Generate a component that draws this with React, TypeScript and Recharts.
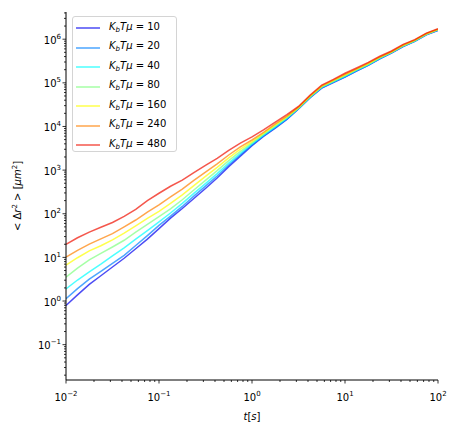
import { LineChart, Line, XAxis, YAxis } from 'recharts';

const times = [0.01, 0.0133, 0.0178, 0.0237, 0.0316, 0.0422, 0.0562, 0.075, 0.1, 0.133, 0.178, 0.237, 0.316, 0.422, 0.562, 0.75, 1, 1.33, 1.78, 2.37, 3.16, 4.22, 5.62, 7.5, 10, 13.3, 17.8, 23.7, 31.6, 42.2, 56.2, 75, 100];

const k10 = [0.794, 1.38, 2.4, 3.8, 6.03, 9.55, 15.8, 26.3, 45.7, 79.4, 132, 224, 380, 661, 1200, 2090, 3630, 5890, 9120, 14500, 25100, 45700, 75900, 102000, 135000, 186000, 251000, 355000, 479000, 676000, 891000, 1260000, 1580000];
const k20 = [1.13, 1.92, 3.16, 4.79, 7.28, 11.1, 18.7, 31.6, 54.1, 87.9, 147, 253, 430, 733, 1310, 2240, 3800, 6100, 9420, 14800, 25500, 46300, 77100, 104000, 138000, 189000, 255000, 360000, 484000, 684000, 899000, 1270000, 1600000];
const k40 = [1.9, 3.03, 4.66, 7.01, 10.8, 16.6, 26.1, 41.1, 65.2, 104, 173, 294, 491, 830, 1450, 2430, 3980, 6310, 9800, 15300, 25900, 47100, 78500, 106000, 141000, 193000, 260000, 366000, 491000, 693000, 910000, 1290000, 1620000];
const k80 = [3.5, 5.7, 8.79, 12.3, 17.3, 24.7, 37.8, 56.8, 86.1, 129, 209, 351, 583, 970, 1650, 2690, 4220, 6610, 10300, 15900, 26400, 48100, 80500, 109000, 146000, 198000, 267000, 373000, 500000, 706000, 923000, 1300000, 1640000];
const k160 = [6.67, 9.82, 14.1, 18.5, 25.2, 36.0, 52.7, 78.5, 114, 172, 270, 442, 718, 1160, 1910, 3020, 4520, 6920, 10900, 16600, 27000, 49200, 82800, 112000, 151000, 203000, 274000, 382000, 509000, 719000, 938000, 1320000, 1670000];
const k240 = [10.1, 14.5, 20.1, 26.5, 35.1, 50.1, 71.9, 109, 160, 245, 365, 580, 904, 1390, 2220, 3390, 4900, 7330, 11500, 17300, 27700, 50500, 85100, 115000, 157000, 209000, 282000, 392000, 520000, 735000, 953000, 1350000, 1690000];
const k480 = [20.0, 28.2, 38.0, 49.0, 63.1, 87.1, 126, 200, 295, 427, 589, 871, 1290, 1860, 2820, 4170, 5750, 8320, 12600, 18600, 28800, 52500, 89100, 120000, 166000, 219000, 295000, 407000, 537000, 759000, 977000, 1380000, 1740000];

const labels = ['10', '20', '40', '80', '160', '240', '480'];
const colors = ['#0000f0', '#0080ff', '#00ffff', '#80ff80', '#ffff00', '#ff8000', '#f01000'];
const seriesValues = [k10, k20, k40, k80, k160, k240, k480];

const xMajor = [0.01, 0.1, 1, 10, 100];
const yMajor = [0.1, 1, 10, 100, 1000, 10000, 100000, 1000000];
const minorMult = [2, 3, 4, 5, 6, 7, 8, 9];

const xDomain = [0.01, 100];
const yDomain = [0.0155, 4.2e6];

const withMinors = (majors: number[], lo: number, hi: number) => {
    const out: number[] = [];
    const first = Math.floor(Math.log10(lo));
    const last = Math.ceil(Math.log10(hi));
    for (let e = first; e <= last; e++) {
        const base = Math.pow(10, e);
        if (base >= lo && base <= hi) out.push(base);
        minorMult.forEach(m => {
            const v = m * base;
            if (v >= lo && v <= hi) out.push(v);
        });
    }
    majors.forEach(v => { if (!out.includes(v)) out.push(v); });
    return out.sort((a, b) => a - b);
};

const xTicks = withMinors(xMajor, xDomain[0], xDomain[1]);
const yTicks = withMinors(yMajor, yDomain[0], yDomain[1]);

const rows = times.map((t, i) => {
    const row: Record<string, number> = { t };
    labels.forEach((l, j) => { row['k' + l] = seriesValues[j][i]; });
    return row;
});

const isMajor = (v: number) => Math.abs(Math.log10(v) - Math.round(Math.log10(v))) < 1e-6;
const expOf = (v: number) => {
    const e = Math.round(Math.log10(v));
    return e < 0 ? '\u2212' + Math.abs(e) : String(e);
};

const FONT = 'DejaVu Sans, Verdana, sans-serif';

function XTick(props: any) {
    const { x, y, payload } = props;
    const v = payload.value;
    const major = isMajor(v);
    return (
        <g>
            <line x1={x} x2={x} y1={y} y2={y + (major ? 3.5 : 2)} stroke="#000" strokeWidth={0.8} />
            {major && (
                <text x={x} y={y + 20.5} textAnchor="middle" fontSize={10} fontFamily={FONT} fill="#000">
                    <tspan>10</tspan>
                    <tspan dy={-5} fontSize={7}>{expOf(v)}</tspan>
                </text>
            )}
        </g>
    );
}

function YTick(props: any) {
    const { x, y, payload } = props;
    const v = payload.value;
    const major = isMajor(v);
    return (
        <g>
            <line x1={x} x2={x - (major ? 3.5 : 2)} y1={y} y2={y} stroke="#000" strokeWidth={0.8} />
            {major && (
                <text x={x - 5} y={y + 4.5} textAnchor="end" fontSize={10} fontFamily={FONT} fill="#000">
                    <tspan>10</tspan>
                    <tspan dy={-5} fontSize={7}>{expOf(v)}</tspan>
                </text>
            )}
        </g>
    );
}

export default function App() {
    return (
        <div style={{ position: 'absolute', left: 0, top: 0, width: 456, height: 431, background: '#fff', fontFamily: FONT }}>
            <LineChart width={456} height={431} data={rows} margin={{ top: 12, right: 18, bottom: 0, left: 0 }}>
                <XAxis dataKey="t" type="number" scale="log" domain={xDomain} allowDataOverflow ticks={xTicks} interval={0}
                    height={51} tickSize={0} tickMargin={0} tickLine={false} tick={(p: any) => <XTick {...p} />}
                    axisLine={{ stroke: '#000', strokeWidth: 1 }} />
                <XAxis xAxisId="top" orientation="top" dataKey="t" type="number" scale="log" domain={xDomain} allowDataOverflow
                    height={0} tick={false} tickLine={false} axisLine={{ stroke: '#000', strokeWidth: 1 }} />
                <YAxis type="number" scale="log" domain={yDomain} allowDataOverflow ticks={yTicks} interval={0}
                    width={66} tickSize={0} tickMargin={0} tickLine={false} tick={(p: any) => <YTick {...p} />}
                    axisLine={{ stroke: '#000', strokeWidth: 1 }} />
                <YAxis yAxisId="right" orientation="right" type="number" scale="log" domain={yDomain} allowDataOverflow
                    width={0} tick={false} tickLine={false} axisLine={{ stroke: '#000', strokeWidth: 1 }} />
                {labels.map((l, j) => (
                    <Line key={l} dataKey={'k' + l} type="linear" stroke={colors[j]} strokeOpacity={0.7} strokeWidth={1.5}
                        dot={false} isAnimationActive={false} />
                ))}
            </LineChart>

            <svg width={456} height={431} style={{ position: 'absolute', left: 0, top: 0, pointerEvents: 'none' }}>
                <text x={252} y={420} textAnchor="middle" fontSize={10} fontFamily={FONT} fill="#000">
                    <tspan fontStyle="italic">t</tspan>[<tspan fontStyle="italic">s</tspan>]
                </text>
                <text transform="translate(21,196) rotate(-90)" textAnchor="middle" fontSize={10} fontFamily={FONT} fill="#000">
                    {'< \u0394'}<tspan fontStyle="italic">r</tspan><tspan dy={-4} fontSize={7}>2</tspan>
                    <tspan dy={4}>{' > ['}</tspan><tspan fontStyle="italic">{'\u03bcm'}</tspan><tspan dy={-4} fontSize={7}>2</tspan><tspan dy={4}>]</tspan>
                </text>
            </svg>

            <div style={{
                position: 'absolute', left: 72, top: 16, width: 105, height: 136, boxSizing: 'border-box',
                border: '1px solid #d4d4d4', borderRadius: 3, background: 'rgba(255,255,255,0.8)'
            }}>
                {labels.map((l, j) => (
                    <div key={l} style={{ position: 'absolute', left: 0, top: 3 + j * 19.5, height: 16, display: 'flex', alignItems: 'center' }}>
                        <svg width={30} height={16} style={{ display: 'block' }}>
                            <line x1={3} x2={27} y1={8} y2={8} stroke={colors[j]} strokeOpacity={0.7} strokeWidth={1.5} />
                        </svg>
                        <div style={{ marginLeft: 6, fontSize: 10, color: '#000', whiteSpace: 'nowrap', lineHeight: '16px' }}>
                            <i>K</i><sub style={{ fontSize: 7, verticalAlign: -2 }}><i>b</i></sub><i>T</i><i>{'\u03bc'}</i>{' = ' + l}
                        </div>
                    </div>
                ))}
            </div>
        </div>
    );
}
